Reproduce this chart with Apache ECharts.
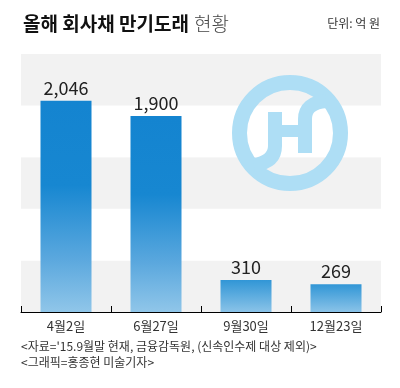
<!DOCTYPE html>
<html>
<head>
<meta charset="utf-8">
<style>html,body{margin:0;padding:0;background:#fff;}#c{width:400px;height:388px;}</style>
<script src="https://cdn.jsdelivr.net/npm/echarts@6/dist/echarts.min.js"></script>
</head>
<body>
<div id="c"></div>
<script>
var categories = ['4월2일', '6월27일', '9월30일', '12월23일'];
var values = [2046, 1900, 310, 269];
var yTicks = [0, 500, 1000, 1500, 2000, 2500];

var FONT = '"Noto Sans CJK KR", "Noto Sans", sans-serif';
var chart = echarts.init(document.getElementById('c'), null, {renderer: 'canvas'});

function barColor(p) {
  if (p.value > 1000) {
    return new echarts.graphic.LinearGradient(0, 0, 0, 1, [
      {offset: 0, color: '#1484d0'},
      {offset: 0.4, color: '#1787d1'},
      {offset: 0.75, color: '#5ba8de'},
      {offset: 1, color: '#90c6e9'}
    ]);
  }
  return new echarts.graphic.LinearGradient(0, 0, 0, 1, [
    {offset: 0, color: '#3196d6'},
    {offset: 1, color: '#8ac3e8'}
  ]);
}

var logoColor = '#aedef5';
var cx = 290, cy = 133;

var option = {
  animation: false,
  backgroundColor: '#fff',
  title: {
    left: 18, top: 9,
    text: '{a|올해 회사채 만기도래} {b|현황}',
    textStyle: {
      rich: {
        a: {fontFamily: FONT, fontSize: 19, fontWeight: 'bold', color: '#111'},
        b: {fontFamily: FONT, fontSize: 19, fontWeight: 300, color: '#444'}
      }
    }
  },
  graphic: [
    {type: 'text', right: 20, top: 17, style: {text: '단위: 억 원', font: '12px ' + FONT, fill: '#333'}},
    {type: 'text', left: 21, top: 340, style: {text: "<자료='15.9월말 현재, 금융감독원, (신속인수제 대상 제외)>", font: '12px ' + FONT, fill: '#333'}},
    {type: 'text', left: 21, top: 356, style: {text: '<그래픽=홍종현 미술기자>', font: '12px ' + FONT, fill: '#333'}},
    {type: 'circle', z: 10, shape: {cx: cx, cy: cy, r: 50.5}, style: {fill: 'none', stroke: logoColor, lineWidth: 15}},
    {type: 'line', z: 10, shape: {x1: 275, y1: 112, x2: 275, y2: 146}, style: {stroke: logoColor, lineWidth: 14}},
    {type: 'bezierCurve', z: 10, shape: {x1: 275, y1: 146, cpx1: 275, cpy1: 162, x2: 254, y2: 165}, style: {fill: 'none', stroke: logoColor, lineWidth: 14}},
    {type: 'line', z: 10, shape: {x1: 305, y1: 153, x2: 305, y2: 119}, style: {stroke: logoColor, lineWidth: 14}},
    {type: 'bezierCurve', z: 10, shape: {x1: 305, y1: 119, cpx1: 305, cpy1: 103, x2: 326, y2: 101}, style: {fill: 'none', stroke: logoColor, lineWidth: 14}},
    {type: 'rect', z: 10, shape: {x: 282, y: 125, width: 16, height: 12}, style: {fill: logoColor}}
  ],
  grid: {left: 21, right: 19, top: 54, bottom: 76, containLabel: false},
  xAxis: {
    type: 'category',
    data: categories,
    axisLine: {lineStyle: {color: '#000', width: 1}},
    axisTick: {show: true, inside: true, length: 6, lineStyle: {color: '#000'}},
    axisLabel: {fontFamily: FONT, fontSize: 13, color: '#333', margin: 8},
    splitLine: {show: false}
  },
  yAxis: {
    type: 'value',
    min: yTicks[0], max: yTicks[yTicks.length - 1], interval: 500,
    axisLine: {show: false}, axisTick: {show: false}, axisLabel: {show: false},
    splitLine: {show: false},
    splitArea: {show: true, areaStyle: {color: ['#f2f2f2', '#ffffff']}}
  },
  series: [{
    type: 'bar',
    data: values,
    barWidth: 51,
    itemStyle: {color: barColor},
    label: {
      show: true, position: 'top', distance: 4,
      fontFamily: FONT, fontSize: 18, color: '#222',
      formatter: function (p) { return p.value.toLocaleString('en-US'); }
    }
  }]
};
chart.setOption(option);
</script>
</body>
</html>
